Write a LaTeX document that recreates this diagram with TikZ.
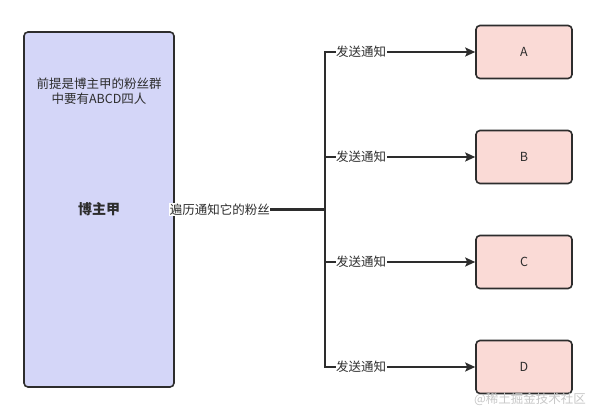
\documentclass[tikz,border=0pt]{standalone}
\usepackage{fontspec}
\setmainfont{Noto Sans CJK SC}
\usetikzlibrary{arrows.meta,positioning,calc}
\definecolor{lavender}{RGB}{212,214,248}
\definecolor{blush}{RGB}{250,218,214}
\definecolor{ink}{RGB}{45,45,45}

\begin{document}
\begin{tikzpicture}[x=1pt, y=-1pt, >={Stealth[length=10pt, width=9pt, inset=2pt]}]
    \tikzset{
        blogbox/.style={draw=ink, line width=1.6pt, rounded corners=4pt, fill=lavender, minimum width=150pt, minimum height=355pt, text=ink, font=\fontsize{14}{16}\selectfont\bfseries},
        fanbox/.style={draw=ink, line width=1.6pt, rounded corners=4pt, fill=blush, minimum width=96pt, minimum height=53pt, text=ink, font=\fontsize{12.5}{14}\selectfont},
        link/.style={draw=ink, line width=2.2pt},
        tag/.style={fill=white, inner sep=0.5pt, text=ink, font=\fontsize{12.5}{14}\selectfont}
    }
    \useasboundingbox (0,0) rectangle (597,419);

    % blogger side
    \node[blogbox] (blogger) at (99,209.5) {博主甲};
    \node[align=center, text=ink, font=\fontsize{12.5}{15.5}\selectfont] (premise) at (99,91) {前提是博主甲的粉丝群\\中要有ABCD四人};

    % fans
    \node[fanbox] (fanA) at (524,52) {A};
    \node[fanbox] (fanB) at (524,157) {B};
    \node[fanbox] (fanC) at (524,262) {C};
    \node[fanbox] (fanD) at (524,367) {D};

    \coordinate (trunk) at (325,209.5);
    \draw[link] (blogger.east) -- node[tag, pos=0.3] {遍历通知它的粉丝} (trunk);
    \foreach \f in {A,B,C,D}
        \draw[link, ->] (trunk) |- node[tag, pos=0.62] {发送通知} (fan\f.west);

    \node[text=black!22, font=\fontsize{12.5}{14}\selectfont] (mark) at (530,399) {@稀土掘金技术社区};
\end{tikzpicture}
\end{document}
